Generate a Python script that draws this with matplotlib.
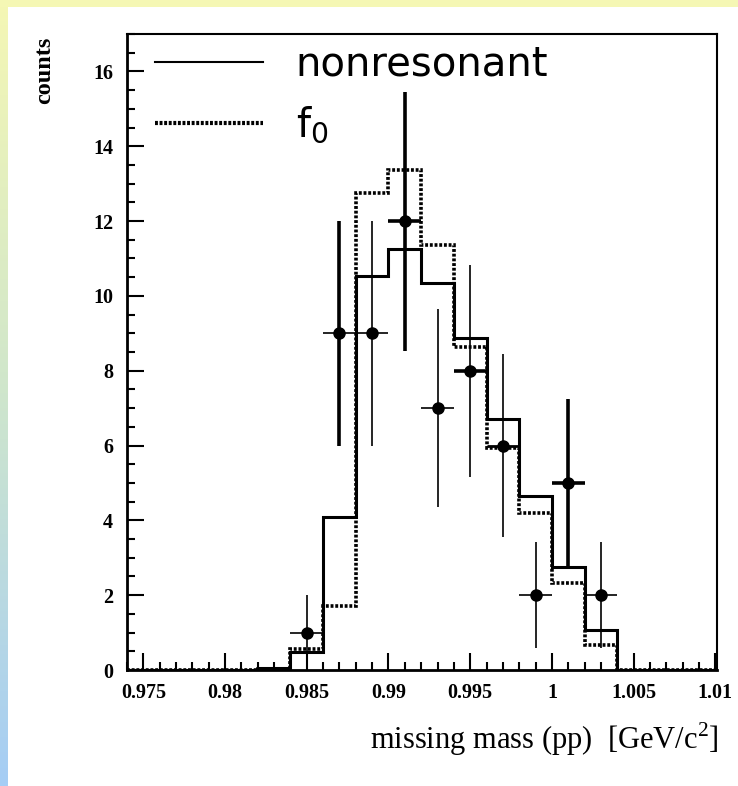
import numpy as np
import matplotlib.pyplot as plt
from matplotlib.ticker import MultipleLocator, FixedLocator
from matplotlib.colors import LinearSegmentedColormap
from matplotlib.lines import Line2D

# histogram bin edges (GeV/c^2) and the two simulated curves
edges = [0.974, 0.976, 0.978, 0.980, 0.982, 0.984, 0.986, 0.988, 0.990,
         0.992, 0.994, 0.996, 0.998, 1.000, 1.002, 1.004, 1.006, 1.008, 1.010]
nonres = [0, 0, 0, 0, 0.05, 0.47, 4.08, 10.52, 11.26, 10.34, 8.87, 6.71,
          4.65, 2.76, 1.07, 0, 0, 0]
f0 = [0, 0, 0, 0, 0.03, 0.55, 1.72, 12.76, 13.37, 11.36, 8.64, 5.94,
      4.19, 2.32, 0.67, 0, 0, 0]

# measured points
mass = [0.985, 0.987, 0.989, 0.991, 0.993, 0.995, 0.997, 0.999, 1.001, 1.003]
counts = [1, 9, 9, 12, 7, 8, 6, 2, 5, 2]
err = [1.0, 3.0, 3.0, 3.46, 2.65, 2.83, 2.45, 1.41, 2.24, 1.41]
half_bin = 0.001

xticks = [0.975, 0.98, 0.985, 0.99, 0.995, 1.0, 1.005, 1.01]
xticklabels = ['0.975', '0.98', '0.985', '0.99', '0.995', '1', '1.005', '1.01']
yticks = [0, 2, 4, 6, 8, 10, 12, 14, 16]

# line widths of the error bars (the scan shows some thick, some thin)
vlw = [1.2, 2.6, 1.2, 2.6, 1.2, 1.2, 1.2, 1.2, 2.6, 1.2]
hlw = [1.2, 1.2, 1.2, 2.6, 1.2, 2.6, 2.0, 1.2, 2.6, 1.2]

fig = plt.figure(figsize=(7.38, 7.86), dpi=100)

# slide decoration: yellow top strip, yellow->blue strip on the left
cmap = LinearSegmentedColormap.from_list('strip', ['#f5f7b4', '#cfe6cc', '#a5cdf5'])
bg = fig.add_axes([0, 0, 8 / 738, 1])
bg.imshow(np.linspace(0, 1, 256).reshape(-1, 1), aspect='auto', cmap=cmap)
bg.axis('off')
top = fig.add_axes([0, 1 - 7 / 786, 1, 7 / 786])
top.set_facecolor('#f5f7b4')
top.set_xticks([])
top.set_yticks([])
for s in top.spines.values():
    s.set_visible(False)

ax = fig.add_axes([127 / 738, 1 - 670 / 786, 590 / 738, 636 / 786])

ax.stairs(nonres, edges, color='black', linewidth=2.2)
ax.stairs(f0, edges, color='black', linewidth=2.6, linestyle=(0, (0.8, 0.5)))

x = np.array(mass)
y = np.array(counts)
e = np.array(err)
ax.vlines(x, y - e, y + e, colors='black', linewidths=vlw)
ax.hlines(y, x - half_bin, x + half_bin, colors='black', linewidths=hlw)
ax.plot(x, y, 'o', color='black', markersize=8)

ax.set_xlim(0.974, 1.0101)
ax.set_ylim(0, 17)
ax.xaxis.set_major_locator(FixedLocator(xticks))
ax.set_xticklabels(xticklabels)
ax.xaxis.set_minor_locator(MultipleLocator(0.001))
ax.yaxis.set_major_locator(FixedLocator(yticks))
ax.yaxis.set_minor_locator(MultipleLocator(0.5))
ax.tick_params(which='both', direction='in', top=False, right=False, width=1.5)
ax.tick_params(which='major', length=12)
ax.tick_params(which='minor', length=6)
ax.tick_params(axis='y', pad=10)
ax.tick_params(axis='x', pad=9)
for lab in ax.get_xticklabels() + ax.get_yticklabels():
    lab.set_fontfamily('Liberation Serif')
    lab.set_fontsize(14.5)
    lab.set_fontweight('bold')
for side in ['left', 'bottom']:
    ax.spines[side].set_linewidth(2.0)
for side in ['right', 'top']:
    ax.spines[side].set_linewidth(1.5)

ax.set_xlabel('missing mass (pp)  [GeV/c$^\\mathregular{2}$]', family='Liberation Serif',
              fontsize=22)
ax.xaxis.set_label_coords(1.002, -0.08)
ax.xaxis.label.set_horizontalalignment('right')
ax.set_ylabel('counts', family='Liberation Serif', fontsize=17.5, fontweight='bold')
ax.yaxis.set_label_coords(-0.139, 0.996)
ax.yaxis.label.set_verticalalignment('center')
ax.yaxis.label.set_horizontalalignment('right')

leg_handles = [Line2D([], [], color='black', linewidth=1.5),
               Line2D([], [], color='black', linewidth=3.0, linestyle=(0, (0.7, 0.4)))]
ax.legend(leg_handles, ['nonresonant', 'f$_0$'], loc='upper left',
          bbox_to_anchor=(0.047, 0.983), frameon=False, borderpad=0,
          borderaxespad=0, handlelength=2.7, handletextpad=0.8,
          labelspacing=0.5, prop={'family': 'DejaVu Sans', 'size': 29})

fig.savefig('out.png', dpi=100)
